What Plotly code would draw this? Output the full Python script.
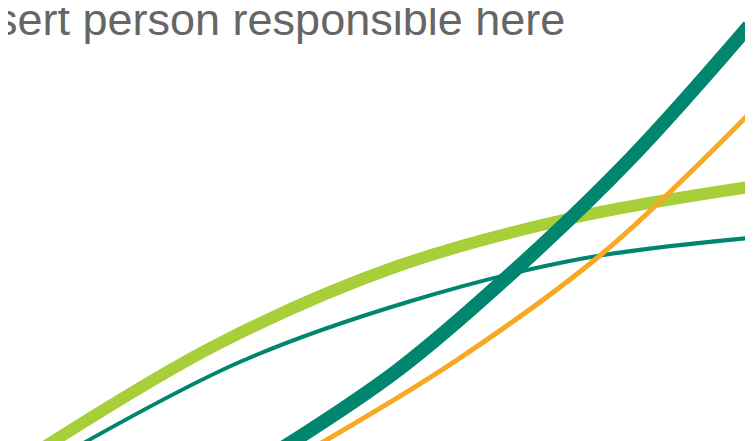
import plotly.graph_objects as go

# Decorative curves, in pixel-space coordinates of the 753x441 canvas
lime_x = [33, 210, 387, 564, 741]
lime_y = [441, 336, 259, 210, 179]

thin_teal_x = [65, 234, 403, 572, 741]
thin_teal_y = [441, 353, 293, 251, 230]

thick_teal_x = [273, 390, 507, 624, 741]
thick_teal_y = [441, 362, 262, 149, 18]

orange_x = [303, 449, 595, 741]
orange_y = [441, 352, 245, 106]

title_text = "sert person responsible here"

TEAL = "#00866f"
LIME = "#a7cf3a"
ORANGE = "#f8a823"

fig = go.Figure()
fig.add_trace(go.Scatter(x=thin_teal_x, y=thin_teal_y, mode="lines",
                         line=dict(color=TEAL, width=4, shape="spline", smoothing=1),
                         hoverinfo="skip"))
fig.add_trace(go.Scatter(x=lime_x, y=lime_y, mode="lines",
                         line=dict(color=LIME, width=12, shape="spline", smoothing=1),
                         hoverinfo="skip"))
fig.add_trace(go.Scatter(x=orange_x, y=orange_y, mode="lines",
                         line=dict(color=ORANGE, width=5, shape="spline", smoothing=1),
                         hoverinfo="skip"))
fig.add_trace(go.Scatter(x=thick_teal_x, y=thick_teal_y, mode="lines",
                         line=dict(color=TEAL, width=14, shape="spline", smoothing=1),
                         hoverinfo="skip"))

fig.add_annotation(x=0, y=1 - 11.5 / 441, xref="paper", yref="paper", text=title_text,
                   showarrow=False, xanchor="left", yanchor="middle", xshift=-15,
                   font=dict(family="Liberation Sans, Arial", size=45, color="#666666"))

fig.update_layout(width=753, height=441, margin=dict(l=0, r=0, t=0, b=0),
                  paper_bgcolor="white", plot_bgcolor="white", showlegend=False,
                  xaxis=dict(range=[0, 753], visible=False, fixedrange=True),
                  yaxis=dict(range=[441, 0], visible=False, fixedrange=True))

fig.write_html("out.html", config={"displayModeBar": False})
